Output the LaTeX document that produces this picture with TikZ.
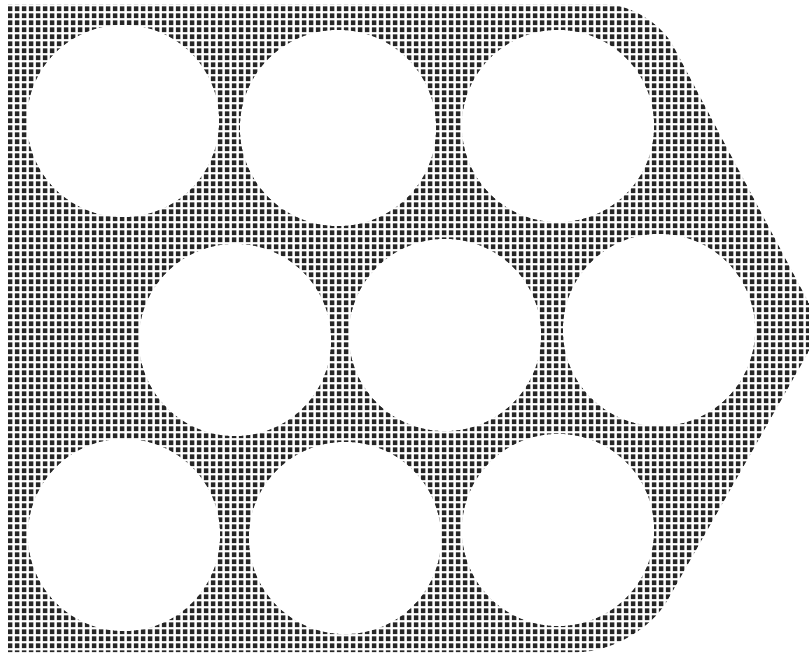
\documentclass[tikz,border=0pt]{standalone}
\usepackage{tikz}
\usetikzlibrary{patterns}

% square dot raster of the plate
\pgfdeclarepatternformonly{squaregrid}{\pgfqpoint{0pt}{0pt}}{\pgfqpoint{7pt}{6.8pt}}{\pgfqpoint{7pt}{6.8pt}}{%
  \pgfpathrectangle{\pgfqpoint{1pt}{0.9pt}}{\pgfqpoint{5pt}{5pt}}%
  \pgfusepath{fill}}

\begin{document}
\begin{tikzpicture}[x=1pt, y=-1pt]
\tikzset{
    plate/.style={pattern=squaregrid, pattern color=black!85},
    hole/.style={circle, fill=white, inner sep=0pt, minimum size=192pt}
}
\useasboundingbox (0,0) rectangle (809,656);
\fill[white] (0,0) rectangle (809,656);
\clip (0,0) rectangle (809,656);

% outline of the plate
\fill[plate] (8,4) [rounded corners=48pt] -- (651,4) [rounded corners=18pt] -- (822,328) [rounded corners=60pt] -- (638,652) [sharp corners] -- (8,652) -- cycle;

% top row
\node[hole] (h1) at (123,121) {};
\node[hole, minimum size=196pt] (h2) at (338,128) {};
\node[hole] (h3) at (558,126) {};
% middle row
\node[hole] (h4) at (235,340) {};
\node[hole] (h5) at (445,335) {};
\node[hole] (h6) at (659,330) {};
% bottom row
\node[hole] (h7) at (124,535) {};
\node[hole] (h8) at (345,538) {};
\node[hole] (h9) at (558,530) {};
\end{tikzpicture}
\end{document}
